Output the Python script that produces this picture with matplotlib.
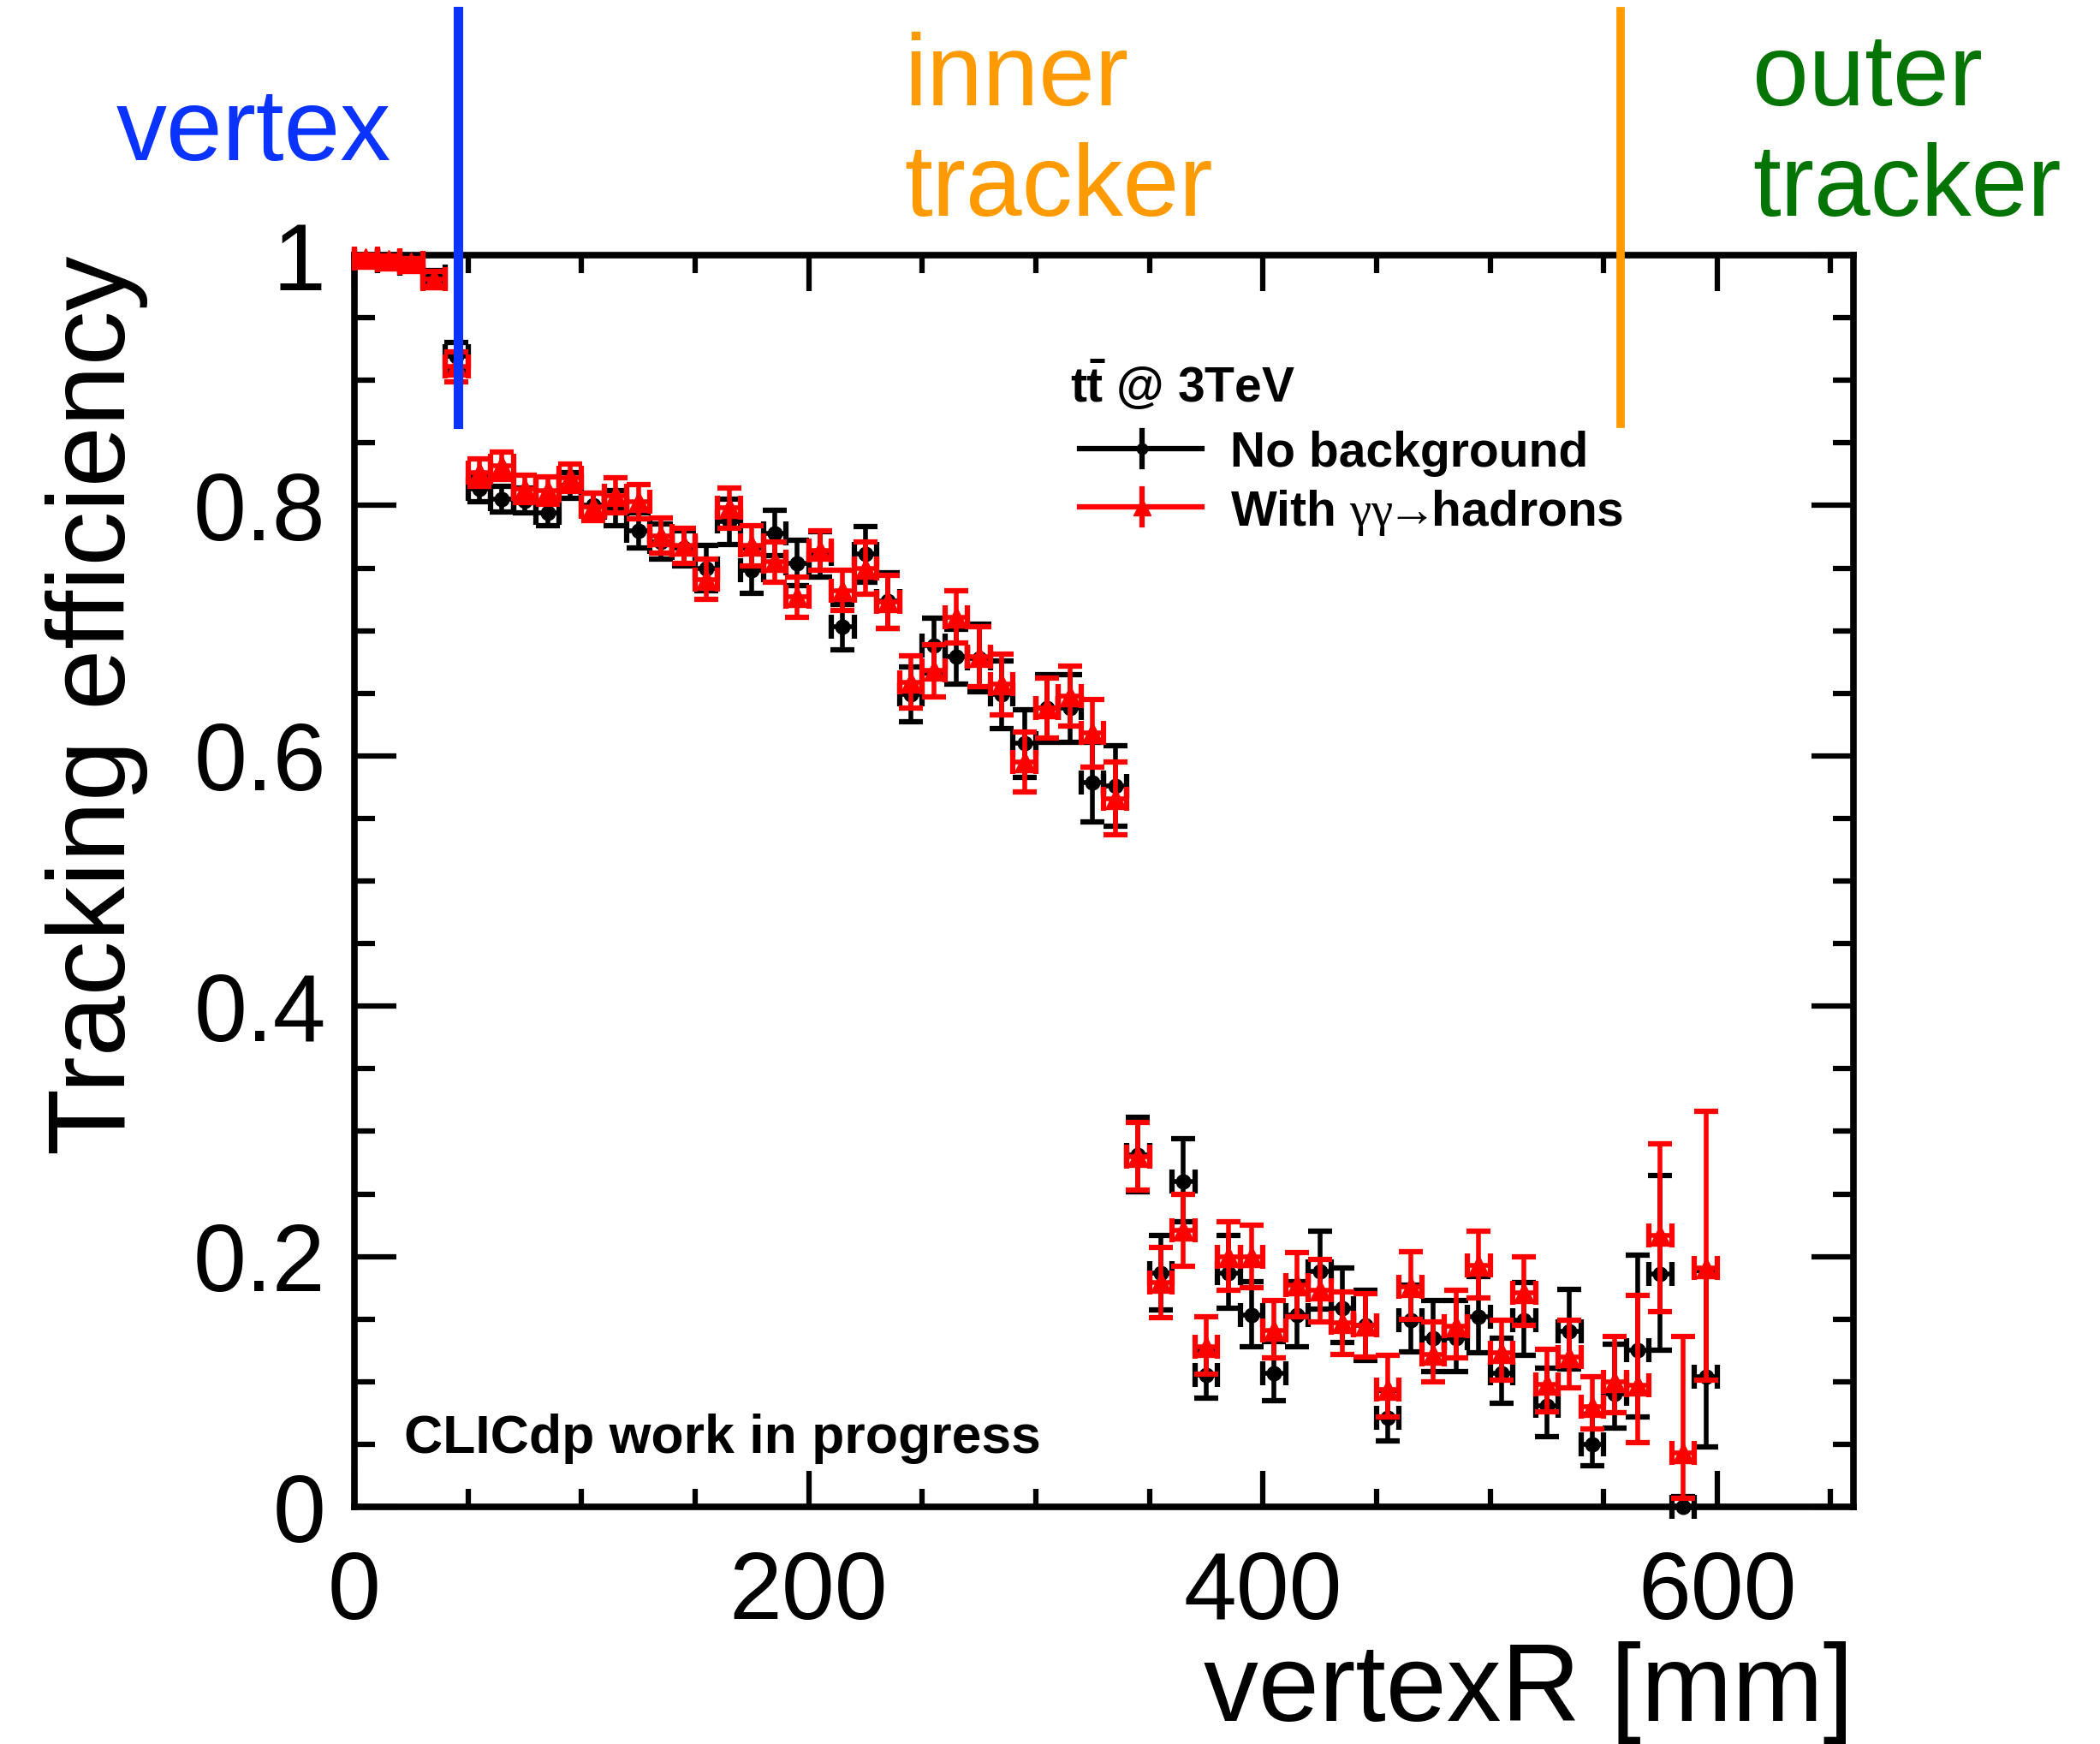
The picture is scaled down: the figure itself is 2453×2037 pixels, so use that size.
import numpy as np
import matplotlib as mpl
mpl.use('Agg')
import matplotlib.pyplot as plt
from matplotlib.ticker import MultipleLocator, FuncFormatter

plt.rcParams['font.family'] = ['Liberation Sans', 'DejaVu Sans']
plt.rcParams['mathtext.fontset'] = 'custom'
plt.rcParams['mathtext.rm'] = 'Liberation Sans'
plt.rcParams['mathtext.bf'] = 'Liberation Sans:bold'
plt.rcParams['mathtext.it'] = 'Liberation Serif'

# bin centres of the production vertex radius [mm], 10 mm bins
radius = [5, 15, 25, 35, 45, 55, 65, 75, 85, 95,
          105, 115, 125, 135, 145, 155, 165, 175, 185, 195,
          205, 215, 225, 235, 245, 255, 265, 275, 285, 295,
          305, 315, 325, 335, 345, 355, 365, 375, 385, 395,
          405, 415, 425, 435, 445, 455, 465, 475, 485, 495,
          505, 515, 525, 535, 545, 555, 565, 575, 585, 595]
bin_half = 5

# ttbar @ 3 TeV, no background overlay
eff_nobkg = [0.996, 0.995, 0.993, 0.983, 0.919, 0.813, 0.805, 0.804, 0.794, 0.816,
             0.800, 0.798, 0.780, 0.771, 0.766, 0.750, 0.787, 0.748, 0.778, 0.754,
             0.761, 0.703, 0.761, 0.724, 0.649, 0.688, 0.679, 0.678, 0.649, 0.610,
             0.638, 0.638, 0.579, 0.576, 0.281, 0.187, 0.260, 0.105, 0.187, 0.153,
             0.107, 0.153, 0.188, 0.159, 0.145, 0.071, 0.149, 0.135, 0.135, 0.152,
             0.107, 0.149, 0.081, 0.140, 0.050, 0.090, 0.125, 0.186, 0.000, 0.104]
err_nobkg_lo = [0.003, 0.003, 0.003, 0.005, 0.011, 0.010, 0.010, 0.010, 0.010, 0.010,
                0.010, 0.014, 0.014, 0.014, 0.014, 0.018, 0.018, 0.018, 0.018, 0.018,
                0.018, 0.018, 0.022, 0.022, 0.022, 0.022, 0.022, 0.027, 0.027, 0.027,
                0.027, 0.027, 0.032, 0.032, 0.029, 0.030, 0.032, 0.018, 0.028, 0.025,
                0.022, 0.025, 0.030, 0.028, 0.028, 0.018, 0.025, 0.027, 0.027, 0.029,
                0.024, 0.028, 0.025, 0.030, 0.017, 0.027, 0.053, 0.061, 0.000, 0.056]
err_nobkg_hi = [0.003, 0.003, 0.003, 0.005, 0.011, 0.010, 0.010, 0.010, 0.010, 0.010,
                0.010, 0.014, 0.014, 0.014, 0.014, 0.018, 0.018, 0.018, 0.018, 0.018,
                0.018, 0.018, 0.022, 0.022, 0.022, 0.022, 0.022, 0.027, 0.027, 0.027,
                0.027, 0.027, 0.032, 0.032, 0.030, 0.030, 0.034, 0.020, 0.030, 0.027,
                0.025, 0.027, 0.032, 0.032, 0.028, 0.022, 0.028, 0.030, 0.030, 0.032,
                0.028, 0.030, 0.030, 0.034, 0.024, 0.040, 0.076, 0.079, 0.008, 0.085]

# ttbar @ 3 TeV with gamma gamma -> hadrons overlay
eff_gghad = [0.997, 0.996, 0.994, 0.981, 0.911, 0.826, 0.832, 0.813, 0.812, 0.822,
             0.799, 0.808, 0.803, 0.776, 0.768, 0.741, 0.798, 0.768, 0.755, 0.727,
             0.764, 0.732, 0.750, 0.723, 0.659, 0.668, 0.711, 0.679, 0.657, 0.595,
             0.638, 0.648, 0.618, 0.566, 0.280, 0.179, 0.221, 0.128, 0.200, 0.200,
             0.141, 0.177, 0.173, 0.147, 0.145, 0.094, 0.176, 0.122, 0.144, 0.193,
             0.123, 0.171, 0.098, 0.120, 0.080, 0.100, 0.097, 0.217, 0.043, 0.191]
err_gghad_lo = [0.003, 0.003, 0.003, 0.006, 0.012, 0.011, 0.011, 0.011, 0.011, 0.011,
                0.011, 0.014, 0.014, 0.014, 0.014, 0.016, 0.016, 0.016, 0.016, 0.016,
                0.016, 0.016, 0.021, 0.021, 0.021, 0.021, 0.021, 0.024, 0.024, 0.024,
                0.024, 0.024, 0.027, 0.029, 0.027, 0.028, 0.029, 0.022, 0.027, 0.025,
                0.022, 0.025, 0.025, 0.025, 0.025, 0.022, 0.026, 0.022, 0.025, 0.026,
                0.022, 0.026, 0.022, 0.025, 0.018, 0.025, 0.046, 0.061, 0.036, 0.090]
err_gghad_hi = [0.003, 0.003, 0.003, 0.006, 0.012, 0.011, 0.011, 0.011, 0.011, 0.011,
                0.011, 0.014, 0.014, 0.014, 0.014, 0.016, 0.016, 0.016, 0.016, 0.016,
                0.016, 0.016, 0.021, 0.021, 0.021, 0.021, 0.021, 0.024, 0.024, 0.024,
                0.024, 0.024, 0.027, 0.029, 0.027, 0.028, 0.029, 0.024, 0.028, 0.025,
                0.024, 0.026, 0.025, 0.025, 0.025, 0.027, 0.028, 0.026, 0.029, 0.027,
                0.026, 0.029, 0.028, 0.029, 0.024, 0.036, 0.072, 0.073, 0.093, 0.125]

# subdetector boundaries [mm]
vertex_edge = 45.5
inner_edge = 557.5

col_vertex = '#0a33ff'
col_inner = '#ff9a00'
col_outer = '#047404'

fig = plt.figure(figsize=(24.53, 20.37), dpi=100)
ax = fig.add_axes([0.16877, 0.13598, 0.71382, 0.71772])


def draw_eff(eff, lo, hi, color, marker, ms, z):
    cont = ax.errorbar(radius, eff, xerr=bin_half, yerr=[lo, hi], fmt=marker,
                       color=color, ms=ms, elinewidth=4, capsize=10,
                       capthick=4.5, zorder=z)
    for art in cont.get_children():
        art.set_clip_on(False)


draw_eff(eff_nobkg, err_nobkg_lo, err_nobkg_hi, 'black', 'o', 12, 3)
draw_eff(eff_gghad, err_gghad_lo, err_gghad_hi, '#ff0000', '^', 17, 4)

ax.set_xlim(0, 660)
ax.set_ylim(0, 1)

for sp in ax.spines.values():
    sp.set_linewidth(5.5)

ax.xaxis.set_major_locator(MultipleLocator(200))
ax.xaxis.set_minor_locator(MultipleLocator(50))
ax.yaxis.set_major_locator(MultipleLocator(0.2))
ax.yaxis.set_minor_locator(MultipleLocator(0.05))
fmt = FuncFormatter(lambda v, p: '%g' % round(v, 3))
ax.xaxis.set_major_formatter(fmt)
ax.yaxis.set_major_formatter(fmt)
ax.tick_params(which='both', direction='in', top=True, right=True, width=4.5,
               labelsize=80)
ax.tick_params(axis='x', which='major', length=30, pad=36)
ax.tick_params(axis='x', which='minor', length=15)
ax.tick_params(axis='y', which='major', length=35, pad=24)
ax.tick_params(axis='y', which='minor', length=17)

ax.set_xlabel('vertexR [mm]', fontsize=92)
ax.xaxis.set_label_coords(1.0, -0.171)
ax.xaxis.label.set(ha='right', va='baseline')
ax.set_ylabel('Tracking efficiency', fontsize=92)
ax.yaxis.set_label_coords(-0.153, 1.0)
ax.yaxis.label.set(ha='right', va='baseline')

# subdetector boundaries, reaching up past the frame
ax.axvline(vertex_edge, ymin=0.865, ymax=1.195, color=col_vertex, lw=8,
           clip_on=False, zorder=10)
ax.axvline(inner_edge, ymin=0.865, ymax=1.195, color=col_inner, lw=7,
           clip_on=False, zorder=10)

ax.text(-0.0674, 1.0759, 'vertex', color=col_vertex, fontsize=85,
        ha='center', va='baseline', transform=ax.transAxes)
ax.text(0.3667, 1.1197, 'inner', color=col_inner, fontsize=85,
        ha='left', va='baseline', transform=ax.transAxes)
ax.text(0.3667, 1.0315, 'tracker', color=col_inner, fontsize=85,
        ha='left', va='baseline', transform=ax.transAxes)
ax.text(0.9326, 1.1197, 'outer', color=col_outer, fontsize=85,
        ha='left', va='baseline', transform=ax.transAxes)
ax.text(0.9326, 1.0315, 'tracker', color=col_outer, fontsize=85,
        ha='left', va='baseline', transform=ax.transAxes)

# legend box drawn by hand, ROOT style
ax.text(0.4774, 0.8824, r'$\mathbf{t\bar{t}}$ @ 3TeV', fontsize=41,
        fontweight='bold', ha='left', va='baseline', transform=ax.transAxes)
rows = [(0.8454, 'black', 'o', 9, 'No background'),
        (0.7989, '#ff0000', '^', 14,
         r'With $\gamma\gamma\!\!\rightarrow\!\!$hadrons')]
for yy, c, m, ms, lab in rows:
    ax.plot([0.4837, 0.5654], [yy, yy], color=c, lw=4.5, transform=ax.transAxes,
            clip_on=False)
    ax.plot([0.5254, 0.5254], [yy - 0.0144, yy + 0.0144], color=c, lw=4.5,
            transform=ax.transAxes, clip_on=False)
    ax.plot([0.5254], [yy], marker=m, color=c, ms=ms, transform=ax.transAxes,
            clip_on=False)
    ax.text(0.5842, yy, lab, fontsize=41, fontweight='bold', ha='left',
            va='center_baseline', transform=ax.transAxes)

ax.text(0.0334, 0.043, 'CLICdp work in progress', fontsize=45,
        fontweight='bold', ha='left', va='baseline', transform=ax.transAxes)

fig.savefig('out.png', dpi=100)
